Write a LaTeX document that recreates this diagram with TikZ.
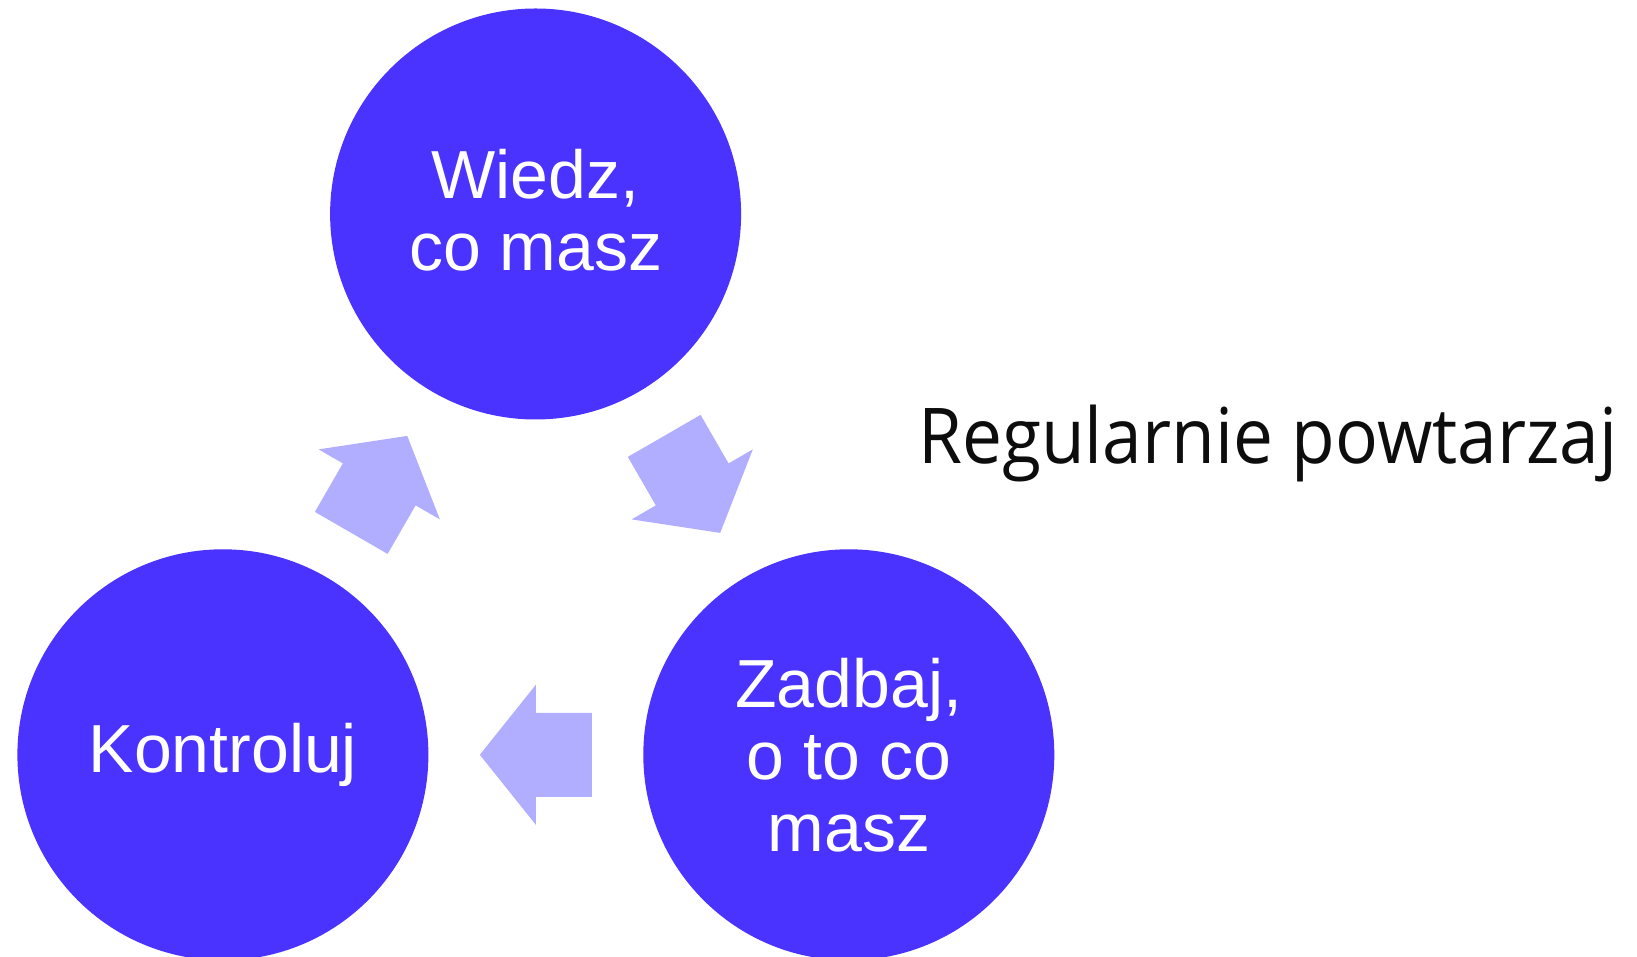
\documentclass[tikz,border=0pt]{standalone}
\usepackage{fontspec}
\setmainfont{Liberation Sans}
\newfontfamily\regfont{Open Sans}
\usetikzlibrary{calc}
\definecolor{circblue}{RGB}{75,51,255}
\definecolor{arrowlav}{RGB}{178,174,255}
\definecolor{txtblack}{RGB}{13,13,13}
\tikzset{
  stagecircle/.style={circle, fill=circblue, draw=none, minimum size=411pt, inner sep=0pt,
    text=white, align=center, font=\fontsize{68}{72}\selectfont},
  arrowfill/.style={fill=arrowlav, draw=none},
}
\begin{document}
\begin{tikzpicture}[x=1pt,y=1pt]
\useasboundingbox (0,0) rectangle (1637,957);
\fill[white] (0,0) rectangle (1637,957);
\node[stagecircle] (W) at (535.6,743) {Wiedz,\\co masz\rule[-9pt]{0pt}{9pt}};
\node[stagecircle] (K) at (222.9,202.2) {Kontroluj};
\node[stagecircle] (Z) at (848.8,202.2) {Zadbaj,\\o to co\\masz};
\coordinate (m1) at ($(K)!0.5!(W)$);
\coordinate (m2) at ($(W)!0.5!(Z)$);
\coordinate (m3) at ($(Z)!0.5!(K)$);
\fill[arrowfill, shift={(m1)}, rotate=60] (-56,-42) -- (0,-42) -- (0,-70) -- (56,0) -- (0,70) -- (0,42) -- (-56,42) -- cycle;
\fill[arrowfill, shift={(m2)}, rotate=-60] (-56,-42) -- (0,-42) -- (0,-70) -- (56,0) -- (0,70) -- (0,42) -- (-56,42) -- cycle;
\fill[arrowfill, shift={(m3)}, rotate=180] (-56,-42) -- (0,-42) -- (0,-70) -- (56,0) -- (0,70) -- (0,42) -- (-56,42) -- cycle;
\node[anchor=base west, inner sep=0pt, text=txtblack, font=\regfont\fontsize{77}{80}\selectfont] (R) at (918,493.7) {\resizebox{699pt}{\height}{Regularnie powtarzaj}};
\end{tikzpicture}
\end{document}
